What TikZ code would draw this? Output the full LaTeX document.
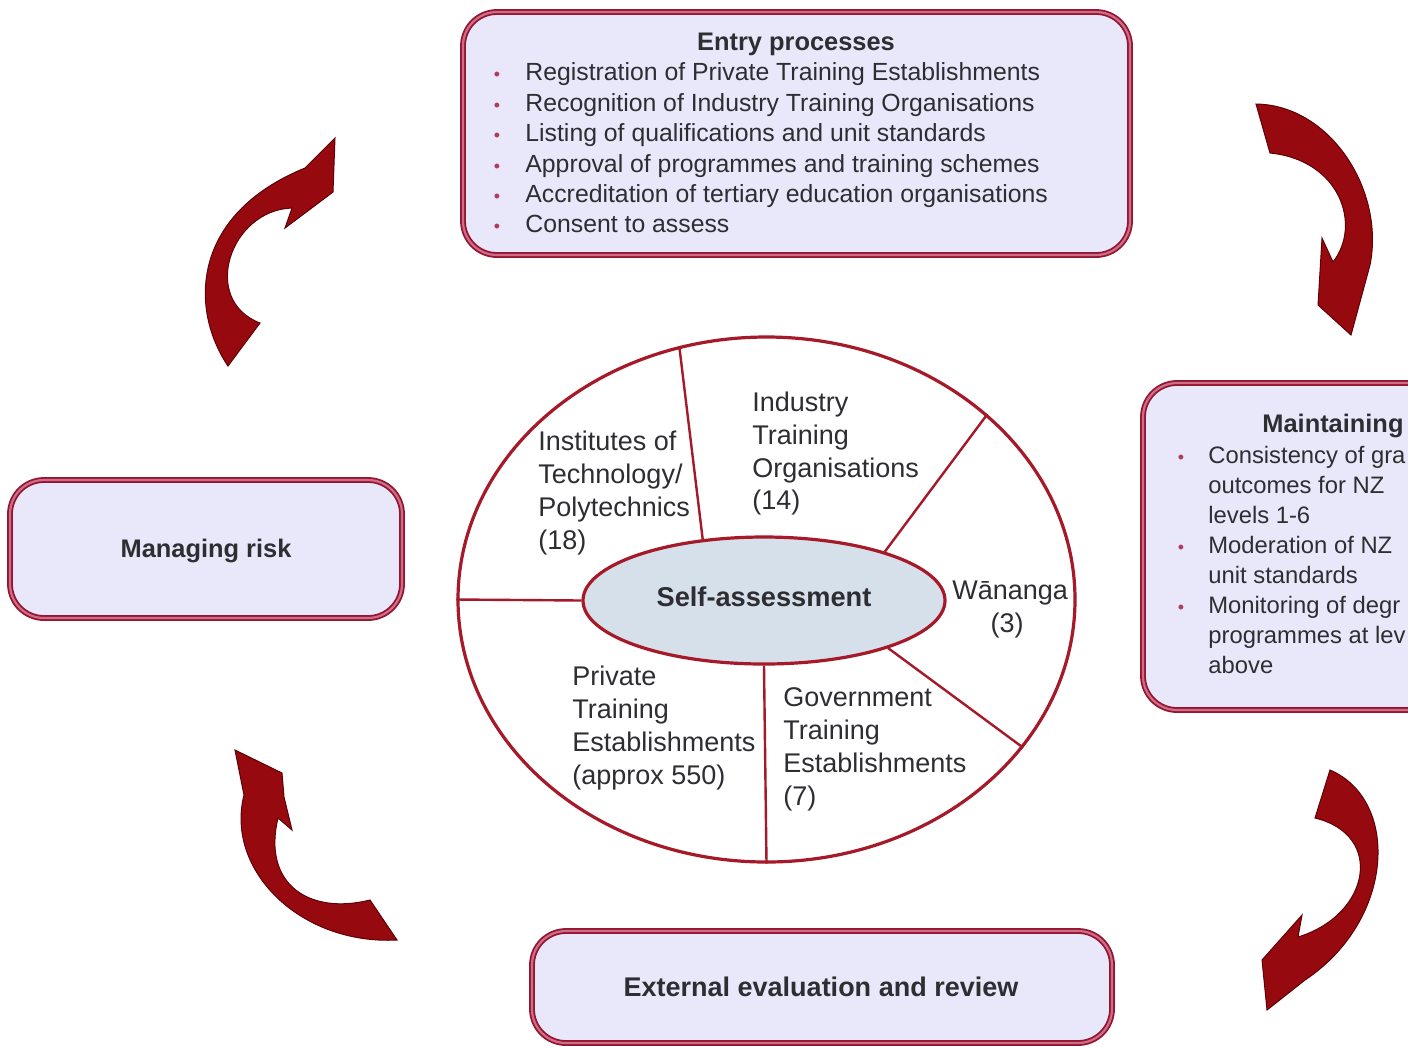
\documentclass[tikz,border=0pt]{standalone}
\usepackage{fontspec}
\setmainfont{Liberation Sans}
\usetikzlibrary{shapes.geometric}
\definecolor{boxred}{RGB}{150,20,50}
\definecolor{boxmid}{RGB}{205,110,135}
\definecolor{boxfill}{RGB}{232,232,250}
\definecolor{ringred}{RGB}{165,25,40}
\definecolor{selffill}{RGB}{214,224,234}
\definecolor{txt}{RGB}{45,45,50}
\definecolor{arrowred}{RGB}{150,10,15}
\definecolor{arrowdark}{RGB}{95,0,5}
\definecolor{bulcol}{RGB}{175,60,90}
\tikzset{
  panel/.style={draw=boxred, line width=0.9pt, double=boxmid, double distance=1.1pt, fill=boxfill, rounded corners=17pt, inner sep=0pt},
  ring/.style={draw=ringred, line width=1.6pt, ellipse, inner sep=0pt},
  divider/.style={draw=ringred, line width=1.2pt},
  bigarrow/.style={fill=arrowred, draw=arrowdark, line width=0.5pt},
  item/.style={anchor=base west, inner sep=0pt, text=txt, font=\fontsize{12.4}{15}\selectfont},
  mitem/.style={item, font=\fontsize{11.9}{15}\selectfont},
  bul/.style={anchor=base, inner sep=0pt, text=bulcol, font=\fontsize{9}{9}\selectfont},
  ttl/.style={anchor=base, inner sep=0pt, text=txt, font=\bfseries\fontsize{12.7}{15}\selectfont},
  seg/.style={anchor=base west, inner sep=0pt, text=txt, font=\fontsize{13.5}{16.5}\selectfont},
}
\begin{document}
\begin{tikzpicture}[x=0.5pt, y=-0.5pt]
\useasboundingbox (0,0) rectangle (1408,1046);
\fill[white] (0,0) rectangle (1408,1046);
\clip (0,0) rectangle (1408,1046);

% curved arrows
\fill[bigarrow] (228,366) .. controls (190,310) and (190,215) .. (305,168)
  -- (335,138) -- (333,192) -- (285,228) -- (292,208)
  .. controls (230,210) and (200,300) .. (260,323) -- cycle;
\fill[bigarrow] (1256,104) .. controls (1330,105) and (1385,190) .. (1370,265)
  -- (1351,335) -- (1318,305) -- (1322,238) -- (1333,262)
  .. controls (1362,225) and (1340,160) .. (1270,153) -- cycle;
\fill[bigarrow] (1330,770) .. controls (1400,800) and (1395,920) .. (1305,980)
  -- (1267,1010) -- (1262,960) -- (1302,915) -- (1298,937)
  .. controls (1370,915) and (1385,835) .. (1315,818) -- cycle;
\fill[bigarrow] (235,750) -- (282,773) -- (284,797) -- (292,830) -- (278,818)
  .. controls (262,885) and (310,915) .. (370,900) -- (397,940)
  .. controls (300,945) and (225,870) .. (244,795) -- cycle;

% panels
\node[panel, minimum width=333.5pt, minimum height=121.5pt] (entry) at (796.5,133.5) {};
\node[panel, minimum width=196pt, minimum height=69pt] (risk) at (206,549) {};
\node[panel, minimum width=215pt, minimum height=163.5pt] (maint) at (1358,546.5) {};
\node[panel, minimum width=290pt, minimum height=56pt] (ext) at (822,987) {};

% entry text
\node[ttl] (entryt) at (796,50) {Entry processes};
\foreach \t [count=\i] in {Registration of Private Training Establishments,
  Recognition of Industry Training Organisations,
  Listing of qualifications and unit standards,
  Approval of programmes and training schemes,
  Accreditation of tertiary education organisations,
  Consent to assess}{
  \node[item] (ent\i) at (525,{50.5+30.4*\i}) {\t};
  \node[bul] (entb\i) at (497,{50.5+30.4*\i}) {\textbullet};
}

% managing risk / external
\node[ttl] (riskt) at (206,557) {Managing risk};
\node[ttl, font=\bfseries\fontsize{13.5}{15}\selectfont] (extt) at (821,996) {External evaluation and review};

% maintaining text (cut at the right edge of the picture)
\node[ttl, anchor=base west] (maintt) at (1262,432) {Maintaining};
\foreach \t [count=\i] in {Consistency of gra,
  outcomes for NZ,
  levels 1-6,
  Moderation of NZ,
  unit standards,
  Monitoring of degr,
  programmes at lev,
  above}{
  \node[mitem] (mt\i) at (1208,{433+30*\i}) {\t};
}
\node[bul] (mb1) at (1181,463) {\textbullet};
\node[bul] (mb2) at (1181,553) {\textbullet};
\node[bul] (mb3) at (1181,613) {\textbullet};

% central ellipses
\node[ring, minimum width=308.5pt, minimum height=262.5pt] (outer) at (766.5,599.5) {};
\node[ring, fill=selffill, minimum width=181pt, minimum height=63.5pt] (inner) at (764,600.5) {};
\draw[divider] (inner.135) -- (outer.109);
\draw[divider] (inner.22) -- (outer.40.6);
\draw[divider] (inner.180) -- (outer.180);
\draw[divider] (inner.-21) -- (outer.-30.6);
\draw[divider] (inner.south) -- (outer.south);
\node[ttl, font=\bfseries\fontsize{13.6}{15}\selectfont] (selft) at (764,606) {Self-assessment};

\foreach \t [count=\i] in {Institutes of, Technology/, Polytechnics, (18)}{
  \node[seg] (itp\i) at (538,{417+33*\i}) {\t};}
\foreach \t [count=\i] in {Industry, Training, Organisations, (14)}{
  \node[seg] (ito\i) at (752,{379+32.7*\i}) {\t};}
\node[seg] (wan1) at (952,599) {Wānanga};
\node[seg, anchor=base] (wan2) at (1007,632) {(3)};
\foreach \t [count=\i] in {Private, Training, Establishments, (approx 550)}{
  \node[seg] (pte\i) at (572,{652+33*\i}) {\t};}
\foreach \t [count=\i] in {Government, Training, Establishments, (7)}{
  \node[seg] (gte\i) at (783,{673+33*\i}) {\t};}
\end{tikzpicture}
\end{document}
